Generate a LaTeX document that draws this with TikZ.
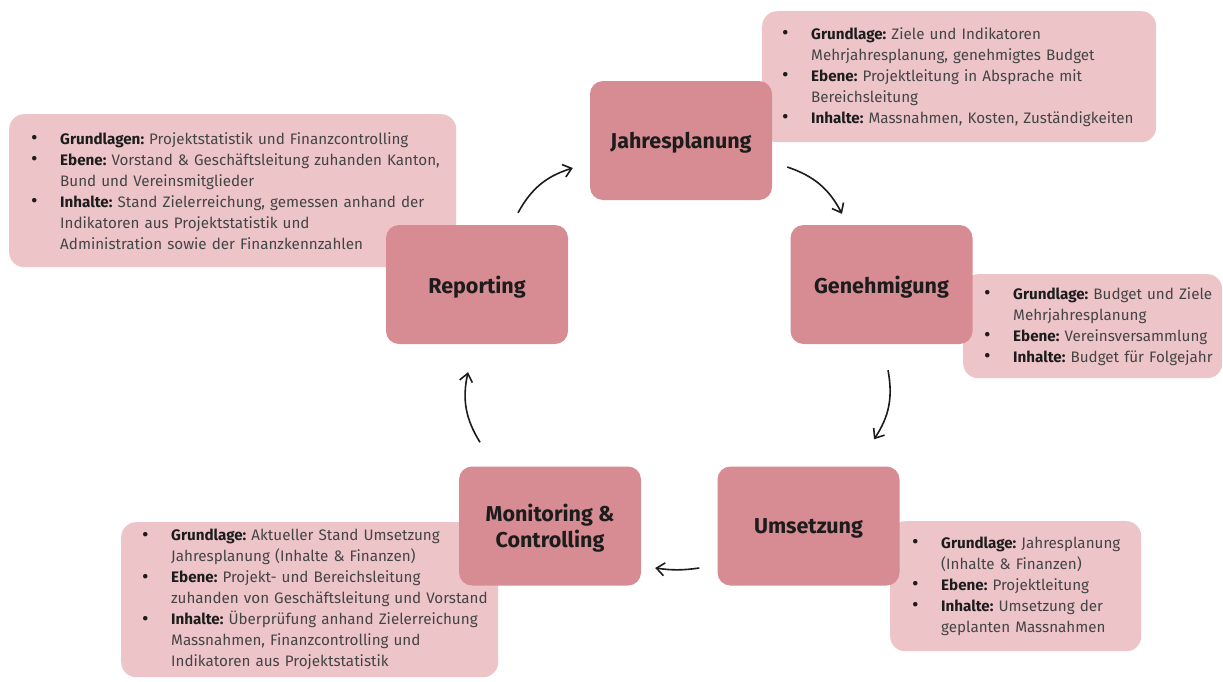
\documentclass[tikz,border=0pt]{standalone}
\usepackage{fontspec}
\setmainfont{Fira Sans}
\usetikzlibrary{arrows.meta, positioning, calc}
\definecolor{PhaseRose}{RGB}{214, 140, 146}
\definecolor{InfoRose}{RGB}{237, 197, 201}
\definecolor{InfoGray}{HTML}{444444}
\definecolor{InkBlack}{HTML}{1C1C1C}
\frenchspacing

\newcommand{\itm}[2]{\mbox{\makebox[29pt][l]{\raisebox{-0.5pt}{\fontsize{20}{0}\selectfont\color{InkBlack}\textbullet}}\textbf{\color{InkBlack}#1} #2}}
\newcommand{\cnt}[1]{\mbox{\hspace*{29pt}#1}}

\begin{document}
\begin{tikzpicture}[x=1pt, y=-1pt,
    phase/.style={fill=PhaseRose, rounded corners=13pt, minimum width=182pt, minimum height=119pt, align=center, text=InkBlack, text depth=0pt, font=\fontsize{21.5}{26}\selectfont\bfseries},
    info/.style={fill=InfoRose, rounded corners=15pt, anchor=north west, align=left, text=InfoGray, inner ysep=0pt, font=\fontsize{15.2}{21}\selectfont},
    cyc/.style={-{Straight Barb[length=8pt, width=13pt]}, line width=1.6pt, InkBlack, bend left=22}]
    \useasboundingbox[fill=white] (0,0) rectangle (1223,681);

    % Infoboxen
    \node[info, inner xsep=20pt, text width=354pt, minimum height=131pt] (jinfo) at (762,11) {%
        \itm{Grundlage:}{Ziele und Indikatoren}\\
        \cnt{Mehrjahresplanung, genehmigtes Budget}\\
        \itm{Ebene:}{Projektleitung in Absprache mit}\\
        \cnt{Bereichsleitung}\\
        \itm{Inhalte:}{Massnahmen, Kosten, Zuständigkeiten}};
    \node[info, inner xsep=22pt, text width=403pt, minimum height=153pt] (rinfo) at (9,114) {%
        \itm{Grundlagen:}{Projektstatistik und Finanzcontrolling}\\
        \itm{Ebene:}{Vorstand \& Geschäftsleitung zuhanden Kanton,}\\
        \cnt{Bund und Vereinsmitglieder}\\
        \itm{Inhalte:}{Stand Zielerreichung, gemessen anhand der}\\
        \cnt{Indikatoren aus Projektstatistik und}\\
        \cnt{Administration sowie der Finanzkennzahlen}\\[6pt]};
    \node[info, inner xsep=21pt, text width=217pt, minimum height=104pt] (ginfo) at (963,274) {%
        \itm{Grundlage:}{Budget und Ziele}\\
        \cnt{Mehrjahresplanung}\\
        \itm{Ebene:}{Vereinsversammlung}\\
        \itm{Inhalte:}{Budget für Folgejahr}};
    \node[info, inner xsep=22pt, text width=207pt, minimum height=130pt] (uinfo) at (890,521) {%
        \itm{Grundlage:}{Jahresplanung}\\
        \cnt{(Inhalte \& Finanzen)}\\
        \itm{Ebene:}{Projektleitung}\\
        \itm{Inhalte:}{Umsetzung der}\\
        \cnt{geplanten Massnahmen}};
    \node[info, inner xsep=21pt, text width=335pt, minimum height=155pt] (minfo) at (121,522) {%
        \itm{Grundlage:}{Aktueller Stand Umsetzung}\\
        \cnt{Jahresplanung (Inhalte \& Finanzen)}\\
        \itm{Ebene:}{Projekt- und Bereichsleitung}\\
        \cnt{zuhanden von Geschäftsleitung und Vorstand}\\
        \itm{Inhalte:}{Überprüfung anhand Zielerreichung}\\
        \cnt{Massnahmen, Finanzcontrolling und}\\
        \cnt{Indikatoren aus Projektstatistik}};

    % Phasen
    \node[phase] (jahr) at (681,140.5) {Jahresplanung};
    \node[phase] (gen) at (881.5,284.5) {Genehmigung};
    \node[phase] (ums) at (808.5,526) {Umsetzung};
    \node[phase] (mon) at (550,526) {Monitoring \&\\Controlling};
    \node[phase] (rep) at (477,284.5) {Reporting};

    % Pfeile
    \coordinate (rep-out) at ($(rep.north)+(41,-12)$);
    \coordinate (jahr-in) at ($(jahr.west)+(-17,27.5)$);
    \coordinate (jahr-out) at ($(jahr.east)+(15,26.5)$);
    \coordinate (gen-in) at ($(gen.north)+(-39.5,-11)$);
    \coordinate (gen-out) at ($(gen.south)+(6.5,26)$);
    \coordinate (ums-in) at ($(ums.north)+(65.5,-27)$);
    \coordinate (ums-out) at ($(ums.west)+(-18,42)$);
    \coordinate (mon-in) at ($(mon.east)+(14,42)$);
    \coordinate (mon-out) at ($(mon.north)+(-70,-24)$);
    \coordinate (rep-in) at ($(rep.south)+(-9,28)$);
    \draw[cyc] (rep-out) to (jahr-in);
    \draw[cyc] (jahr-out) to (gen-in);
    \draw[cyc] (gen-out) to (ums-in);
    \draw[cyc, bend left=8] (ums-out) to (mon-in);
    \draw[cyc] (mon-out) to (rep-in);
\end{tikzpicture}
\end{document}
